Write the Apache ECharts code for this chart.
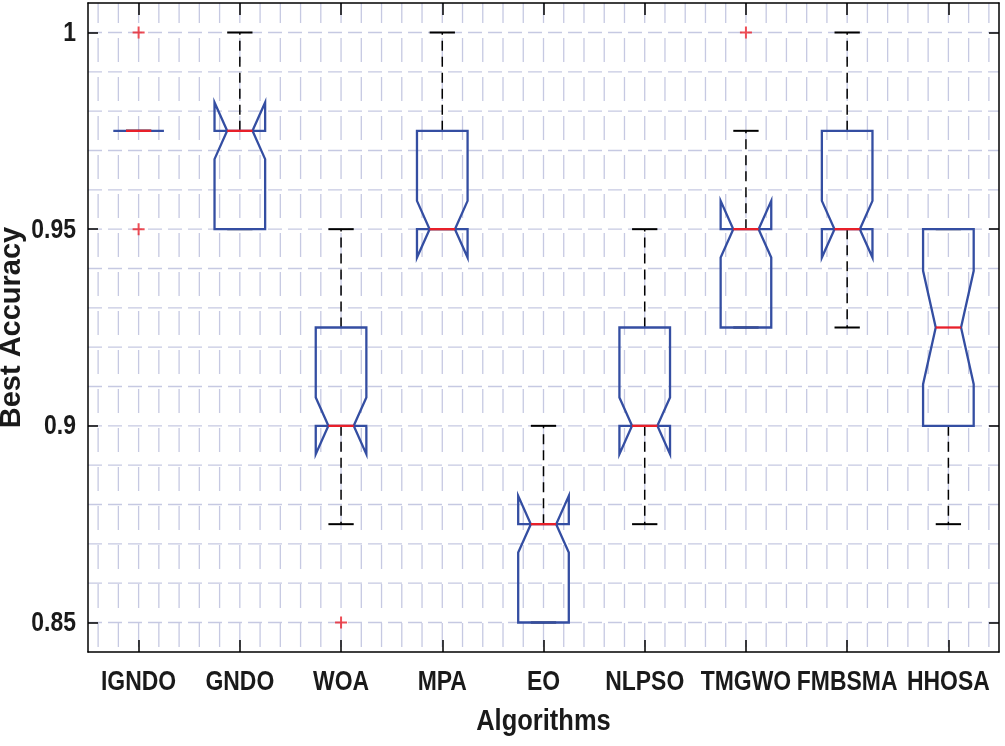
<!DOCTYPE html>
<html>
<head>
<meta charset="utf-8">
<script src="https://cdn.jsdelivr.net/npm/echarts@6/dist/echarts.min.js"></script>
<style>html,body{margin:0;padding:0;background:#fff}#c{width:1005px;height:746px}</style>
</head>
<body>
<div id="c"></div>
<script>
const categories = ['IGNDO','GNDO','WOA','MPA','EO','NLPSO','TMGWO','FMBSMA','HHOSA'];
const q1Values = [0.975,0.95,0.9,0.95,0.85,0.9,0.925,0.95,0.9];
const medianValues = [0.975,0.975,0.9,0.95,0.875,0.9,0.95,0.95,0.925];
const q3Values = [0.975,0.975,0.925,0.975,0.875,0.925,0.95,0.975,0.95];
const notchLow = [0.975,0.9678,0.8928,0.9428,0.8678,0.8928,0.9428,0.9428,0.9106];
const notchHigh = [0.975,0.9822,0.9072,0.9572,0.8822,0.9072,0.9572,0.9572,0.9394];
const whiskerLow = [0.975,0.95,0.875,0.95,0.85,0.875,0.925,0.925,0.875];
const whiskerHigh = [0.975,1.0,0.95,1.0,0.9,0.95,0.975,1.0,0.95];
const outlierCats = ['IGNDO','IGNDO','WOA','TMGWO'];
const outlierVals = [1.0,0.95,0.85,1.0];
const yTicks = [0.85,0.9,0.95,1];
const yTickLabels = ['0.85','0.9','0.95','1'];
const xTitle = 'Algorithms';
const yTitle = 'Best Accuracy';

const BLUE = '#344ea2', RED = '#e8202a', GRIDC = '#c6c9e2', TXT = '#1a1a1a';
const FONT = "'Liberation Sans',Arial,sans-serif";
const SQUEEZE = 0.85;
const Y_MIN = 0.8425, Y_MAX = 1.0075;

const chart = echarts.init(document.getElementById('c'), null, {renderer:'canvas'});

const boxData = categories.map((c,i)=>[i,q1Values[i],medianValues[i],q3Values[i],notchLow[i],notchHigh[i],whiskerLow[i],whiskerHigh[i]]);

function renderBox(params, api){
  const i = api.value(0);
  const q1 = api.value(1), med = api.value(2), q3 = api.value(3);
  const nlo = api.value(4), nhi = api.value(5), wlo = api.value(6), whi = api.value(7);
  const band = api.size([1,0])[0];
  const cx = api.coord([i, med])[0];
  const Y = v => api.coord([i, v])[1];
  const w = band*0.25, nw = band*0.125, cw = band*0.125;
  const dashStyle = {stroke:'#000', lineWidth:1.5, lineDash:[10,6], fill:null};
  const solidBlack = {stroke:'#000', lineWidth:2, fill:null};
  const children = [];
  if (whi > q3) children.push({type:'line', shape:{x1:cx,y1:Y(q3),x2:cx,y2:Y(whi)}, style:dashStyle});
  if (wlo < q1) children.push({type:'line', shape:{x1:cx,y1:Y(q1),x2:cx,y2:Y(wlo)}, style:dashStyle});
  children.push({type:'line', shape:{x1:cx-cw,y1:Y(whi),x2:cx+cw,y2:Y(whi)}, style:solidBlack});
  children.push({type:'line', shape:{x1:cx-cw,y1:Y(wlo),x2:cx+cw,y2:Y(wlo)}, style:solidBlack});
  const pts = [
    [cx-w,Y(q1)],[cx-w,Y(nlo)],[cx-nw,Y(med)],[cx-w,Y(nhi)],[cx-w,Y(q3)],
    [cx+w,Y(q3)],[cx+w,Y(nhi)],[cx+nw,Y(med)],[cx+w,Y(nlo)],[cx+w,Y(q1)]
  ];
  children.push({type:'polygon', shape:{points:pts}, style:{stroke:BLUE, lineWidth:2.3, fill:null, lineJoin:'miter'}});
  children.push({type:'line', shape:{x1:cx-nw,y1:Y(med),x2:cx+nw,y2:Y(med)}, style:{stroke:RED, lineWidth:2.3}});
  return {type:'group', children};
}

function renderGrid(params, api){
  const children = [];
  const top = api.coord([0.5, Y_MAX])[1], bot = api.coord([0.5, Y_MIN])[1];
  const left = api.coord([0.5, 0.9])[0], right = api.coord([9.5, 0.9])[0];
  for (let k = 3; k <= 47; k++) {
    const x = api.coord([k*0.2, 0.9])[0];
    children.push({type:'line', shape:{x1:x,y1:top,x2:x,y2:bot}, style:{stroke:GRIDC, lineWidth:1.3, lineDash:[24,15], lineDashOffset:4}});
  }
  for (let k = 85; k <= 100; k++) {
    const y = api.coord([1, k/100])[1];
    children.push({type:'line', shape:{x1:left,y1:y,x2:right,y2:y}, style:{stroke:GRIDC, lineWidth:1.3, lineDash:[14,6], lineDashOffset:0}});
  }
  return {type:'group', children, silent:true};
}

function renderXLabels(params, api){
  const i = api.value(0);
  const p = api.coord([i, Y_MIN]);
  return {type:'text', x:p[0], y:p[1]+31, scaleX:SQUEEZE,
    style:{x:0, y:0, text:categories[i], align:'center', verticalAlign:'middle',
      font:'bold 27px '+FONT, fill:TXT}};
}
function renderYLabels(params, api){
  const v = api.value(1);
  const p = api.coord([0.5, v]);
  return {type:'text', x:p[0]-12, y:p[1]+1, scaleX:SQUEEZE,
    style:{x:0, y:0, text:yTickLabels[params.dataIndex], align:'right', verticalAlign:'middle',
      font:'bold 27px '+FONT, fill:TXT}};
}
function renderXTitle(params, api){
  const p = api.coord([api.value(0), Y_MIN]);
  return {type:'text', x:p[0], y:p[1]+70, scaleX:SQUEEZE,
    style:{x:0, y:0, text:xTitle, align:'center', verticalAlign:'middle',
      font:'bold 30px '+FONT, fill:TXT}};
}

chart.setOption({
  backgroundColor:'#fff',
  animation:false,
  grid:{left:88, right:6, top:3, bottom:94, containLabel:false, outerBoundsMode:'none'},
  xAxis:[
    {type:'category', data:categories, position:'bottom', boundaryGap:true,
     axisLine:{show:true, onZero:false, lineStyle:{color:'#000', width:1.5}},
     axisTick:{show:true, inside:true, alignWithLabel:true, length:12, lineStyle:{color:'#000', width:1.5}},
     axisLabel:{show:false}, splitLine:{show:false}},
    {type:'category', data:categories, position:'top', boundaryGap:true,
     axisLine:{show:true, onZero:false, lineStyle:{color:'#000', width:1.5}},
     axisTick:{show:true, inside:true, alignWithLabel:true, length:12, lineStyle:{color:'#000', width:1.5}},
     axisLabel:{show:false}, splitLine:{show:false}},
    {type:'value', min:0.5, max:9.5, show:false}
  ],
  yAxis:[
    {type:'value', min:Y_MIN, max:Y_MAX, position:'left',
     axisLine:{show:true, onZero:false, lineStyle:{color:'#000', width:1.5}},
     axisTick:{show:true, inside:true, length:10, customValues:yTicks, lineStyle:{color:'#000', width:1.5}},
     axisLabel:{show:false},
     splitLine:{show:false},
     name:yTitle, nameLocation:'middle', nameGap:62, nameRotate:90,
     nameTextStyle:{fontFamily:FONT, fontWeight:'bold', fontSize:29, color:TXT}},
    {type:'value', min:Y_MIN, max:Y_MAX, position:'right',
     axisLine:{show:true, onZero:false, lineStyle:{color:'#000', width:1.5}},
     axisTick:{show:true, inside:true, length:10, customValues:yTicks, lineStyle:{color:'#000', width:1.5}},
     axisLabel:{show:false}, splitLine:{show:false}}
  ],
  series:[
    {type:'custom', name:'grid', xAxisIndex:2, yAxisIndex:0, data:[[1,0.9]], renderItem:renderGrid, z:0, silent:true},
    {type:'custom', name:'boxes', xAxisIndex:0, yAxisIndex:0, data:boxData, renderItem:renderBox, z:2},
    {type:'scatter', name:'outliers', xAxisIndex:0, yAxisIndex:0, z:3,
     data:outlierCats.map((c,i)=>[c, outlierVals[i]]),
     symbol:'path://M0,-1L0,1M-1,0L1,0', symbolSize:12,
     itemStyle:{color:'none', borderColor:RED, borderWidth:2}},
    {type:'custom', name:'xlabels', xAxisIndex:0, yAxisIndex:0, clip:false, silent:true,
     data:categories.map((c,i)=>[i, Y_MIN]), renderItem:renderXLabels, z:5},
    {type:'custom', name:'ylabels', xAxisIndex:2, yAxisIndex:0, clip:false, silent:true,
     data:yTicks.map(v=>[0.5, v]), renderItem:renderYLabels, z:5},
    {type:'custom', name:'xtitle', xAxisIndex:2, yAxisIndex:0, clip:false, silent:true,
     data:[[5, Y_MIN]], renderItem:renderXTitle, z:5}
  ]
});
</script>
</body>
</html>
